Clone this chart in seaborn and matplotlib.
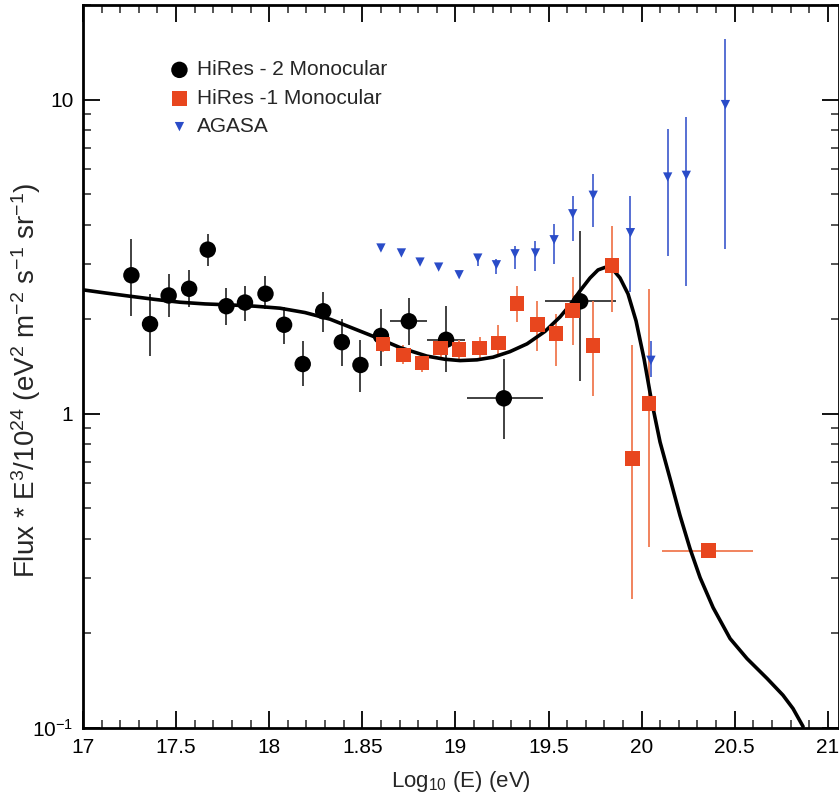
import numpy as np
import matplotlib
matplotlib.use("Agg")
import matplotlib.pyplot as plt
import seaborn as sns
from matplotlib.ticker import FixedLocator, MultipleLocator, LogLocator, NullFormatter

# HiRes-2 monocular (black circles)
hr2_x = [17.26, 17.36, 17.46, 17.57, 17.67, 17.77, 17.87, 17.98, 18.08, 18.18,
         18.29, 18.39, 18.49, 18.60, 18.75, 18.95, 19.26, 19.67]
hr2_y = [2.76, 1.93, 2.38, 2.50, 3.33, 2.20, 2.26, 2.41, 1.92, 1.44,
         2.12, 1.69, 1.43, 1.77, 1.97, 1.72, 1.12, 2.28]
hr2_lo = [2.05, 1.53, 2.04, 2.18, 2.96, 1.91, 1.98, 2.16, 1.67, 1.23,
          1.82, 1.42, 1.17, 1.42, 1.65, 1.36, 0.83, 1.27]
hr2_hi = [3.61, 2.41, 2.79, 2.87, 3.74, 2.52, 2.56, 2.75, 2.18, 1.70,
          2.45, 2.01, 1.72, 2.16, 2.34, 2.21, 1.49, 3.83]
hr2_xlo = [17.26, 17.36, 17.46, 17.57, 17.67, 17.77, 17.87, 17.98, 18.08, 18.18,
           18.29, 18.39, 18.49, 18.60, 18.65, 18.85, 19.06, 19.48]
hr2_xhi = [17.26, 17.36, 17.46, 17.57, 17.67, 17.77, 17.87, 17.98, 18.08, 18.18,
           18.29, 18.39, 18.49, 18.60, 18.85, 19.05, 19.47, 19.86]

# HiRes-1 monocular (red squares)
hr1_x = [18.61, 18.72, 18.82, 18.92, 19.02, 19.13, 19.23, 19.33, 19.44, 19.54,
         19.63, 19.74, 19.84, 19.95, 20.04, 20.36]
hr1_y = [1.67, 1.54, 1.45, 1.62, 1.60, 1.62, 1.68, 2.24, 1.92, 1.80,
         2.13, 1.65, 2.97, 0.722, 1.08, 0.367]
hr1_lo = [1.57, 1.44, 1.36, 1.51, 1.49, 1.50, 1.52, 1.96, 1.59, 1.42,
          1.65, 1.14, 2.11, 0.258, 0.378, 0.35]
hr1_hi = [1.78, 1.66, 1.56, 1.75, 1.72, 1.76, 1.91, 2.55, 2.29, 2.08,
          2.73, 2.29, 3.96, 1.65, 2.50, 0.385]
hr1_xlo = [18.61, 18.72, 18.82, 18.92, 19.02, 19.13, 19.23, 19.33, 19.44, 19.54,
           19.63, 19.74, 19.84, 19.95, 20.04, 20.11]
hr1_xhi = [18.61, 18.72, 18.82, 18.92, 19.02, 19.13, 19.23, 19.33, 19.44, 19.54,
           19.63, 19.74, 19.84, 19.95, 20.04, 20.60]

# AGASA (blue triangles)
ag_x = [18.60, 18.71, 18.81, 18.91, 19.02, 19.12, 19.22, 19.32, 19.43, 19.53,
        19.63, 19.74, 19.94, 20.05, 20.14, 20.24, 20.45]
ag_y = [3.37, 3.25, 3.04, 2.93, 2.77, 3.13, 2.98, 3.23, 3.25, 3.58,
        4.33, 4.96, 3.77, 1.48, 5.67, 5.74, 9.64]
ag_lo = [3.37, 3.25, 3.04, 2.93, 2.77, 2.95, 2.79, 2.89, 2.85, 3.00,
         3.55, 3.93, 2.44, 1.31, 3.18, 2.55, 3.35]
ag_hi = [3.37, 3.25, 3.04, 2.93, 2.77, 3.23, 3.11, 3.42, 3.55, 4.02,
         4.93, 5.79, 4.93, 1.70, 8.06, 8.80, 15.6]

# model curve
fit_x = [17.000, 17.118, 17.252, 17.387, 17.521, 17.655, 17.789, 17.924, 18.058, 18.192,
         18.327, 18.461, 18.584, 18.702, 18.847, 18.944, 19.025, 19.116, 19.202, 19.293,
         19.385, 19.481, 19.562, 19.616, 19.669, 19.723, 19.766, 19.803, 19.841, 19.884,
         19.927, 19.970, 20.013, 20.051, 20.099, 20.153, 20.206, 20.260, 20.314, 20.384,
         20.475, 20.566, 20.674, 20.759, 20.813, 20.867]
fit_y = [2.480, 2.425, 2.367, 2.312, 2.265, 2.237, 2.221, 2.200, 2.168, 2.100,
         2.000, 1.860, 1.740, 1.625, 1.526, 1.491, 1.477, 1.485, 1.514, 1.577,
         1.670, 1.829, 2.034, 2.221, 2.461, 2.706, 2.870, 2.923, 2.902, 2.706,
         2.407, 1.976, 1.496, 1.116, 0.813, 0.621, 0.475, 0.372, 0.301, 0.2416,
         0.1926, 0.1663, 0.1437, 0.1272, 0.1153, 0.1011]

x_ticks = [17, 17.5, 18, 18.5, 19, 19.5, 20, 20.5, 21]
x_labels = ["17", "17.5", "18", "1.85", "19", "19.5", "20", "20.5", "21"]

sns.set_style("ticks")
plt.rcParams['font.family'] = ['Liberation Sans', 'DejaVu Sans']
plt.rcParams['mathtext.fontset'] = 'custom'
plt.rcParams['mathtext.rm'] = 'Liberation Sans'
plt.rcParams['mathtext.it'] = 'Liberation Sans:italic'

fig = plt.figure(figsize=(8.39, 8.07), dpi=100)
ax = fig.add_axes([83 / 839, 79 / 807, 756 / 839, 723 / 807])

red = '#e8461e'
blue = '#2a4cc8'

def asym(c, lo, hi):
    c, lo, hi = np.array(c), np.array(lo), np.array(hi)
    return [c - lo, hi - c]

# error bars
ax.errorbar(hr2_x, hr2_y, yerr=asym(hr2_y, hr2_lo, hr2_hi), xerr=asym(hr2_x, hr2_xlo, hr2_xhi),
            fmt='none', ecolor='#333333', elinewidth=1.3, capsize=0, zorder=2)
ax.errorbar(hr1_x, hr1_y, yerr=asym(hr1_y, hr1_lo, hr1_hi), xerr=asym(hr1_x, hr1_xlo, hr1_xhi),
            fmt='none', ecolor='#f07a50', elinewidth=1.3, capsize=0, zorder=2)
ax.errorbar(ag_x, ag_y, yerr=asym(ag_y, ag_lo, ag_hi),
            fmt='none', ecolor='#4a64d0', elinewidth=1.3, capsize=0, zorder=2)

# fit curve
sns.lineplot(x=fit_x, y=fit_y, color='black', linewidth=2.6, sort=False,
             estimator=None, ax=ax, zorder=2.5)

# data markers
sns.scatterplot(x=hr2_x, y=hr2_y, marker='o', s=140, color='black', edgecolor='none',
                ax=ax, zorder=3, label='HiRes - 2 Monocular')
sns.scatterplot(x=hr1_x, y=hr1_y, marker='s', s=110, color=red, edgecolor='none',
                ax=ax, zorder=3, label='HiRes -1 Monocular')
sns.scatterplot(x=ag_x, y=ag_y, marker='v', s=45, color=blue, edgecolor='none',
                ax=ax, zorder=3, label='AGASA')

ax.set_yscale('log')
ax.set_xlim(17, 21.06)
ax.set_ylim(0.1, 20)

ax.xaxis.set_major_locator(FixedLocator(x_ticks))
ax.set_xticklabels(x_labels)
ax.xaxis.set_minor_locator(MultipleLocator(0.1))
ax.yaxis.set_major_locator(FixedLocator([0.1, 1, 10]))
ax.set_yticklabels(['10$^{-1}$', '1', '10'])
ax.yaxis.set_minor_locator(LogLocator(base=10, subs=np.arange(2, 10)))
ax.yaxis.set_minor_formatter(NullFormatter())

ax.tick_params(which='major', direction='in', top=True, right=True, length=12, width=1.3,
               labelsize=15, colors='black', pad=7)
ax.tick_params(which='minor', direction='in', top=True, right=True, length=6, width=1.1)
for sp in ax.spines.values():
    sp.set_linewidth(2)
    sp.set_color('black')

ax.set_xlabel('Log$_{10}$ (E) (eV)', fontsize=16, labelpad=9)
ax.set_ylabel('Flux * E$^3$/10$^{24}$ (eV$^2$ m$^{-2}$ s$^{-1}$ sr$^{-1}$)', fontsize=20)
ax.yaxis.set_label_coords(-0.053, 0.481)

ax.legend(loc='upper left', bbox_to_anchor=(0.10, 0.935), frameon=False, fontsize=15,
          handletextpad=0.25, labelspacing=0.45, borderaxespad=0, handlelength=1.2,
          markerscale=1.0)

fig.savefig('out.png', dpi=100)
